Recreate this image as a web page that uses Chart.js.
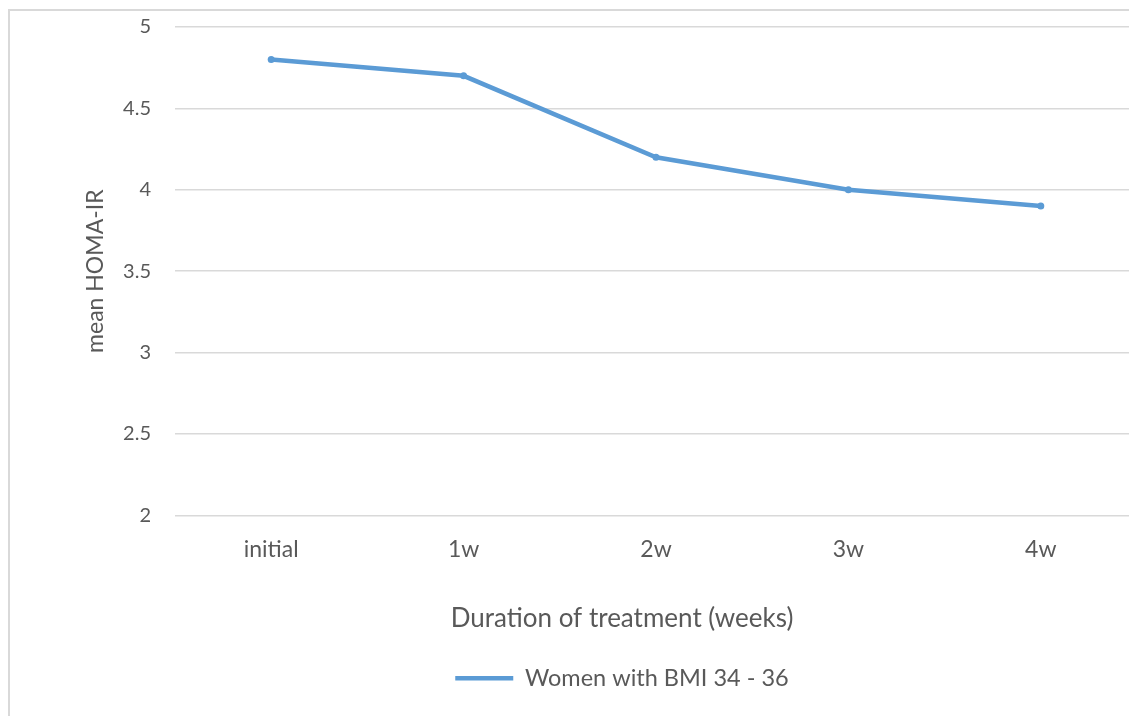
<!DOCTYPE html>
<html>
<head>
<meta charset="utf-8">
<script src="https://cdn.jsdelivr.net/npm/chart.js@4/dist/chart.umd.min.js"></script>
<style>
  html, body { margin: 0; padding: 0; background: #ffffff; overflow: hidden; width: 1129px; height: 716px; }
  #frame { position: absolute; left: 8px; top: 9px; width: 1224px; height: 720px; border: 2px solid #d9d9d9; background: #fff; }
  #chart { display: block; }
</style>
</head>
<body>
<div id="frame"><canvas id="chart" width="1224" height="705"></canvas></div>
<script>
// HOMA-IR over the course of treatment
const categories = ['initial', '1w', '2w', '3w', '4w'];
const homaIR = [4.8, 4.7, 4.2, 4.0, 3.9];
const seriesName = 'Women with BMI 34 - 36';
const yTicks = [2, 2.5, 3, 3.5, 4, 4.5, 5];

const FONT = 'Lato, "Open Sans", sans-serif';
const TEXT = '#595959';
const GRID = '#d9d9d9';
const BLUE = '#5B9BD5';
const LINE_W = 4.5;

new Chart(document.getElementById('chart'), {
  type: 'line',
  data: {
    labels: categories,
    datasets: [{
      label: seriesName,
      data: homaIR,
      borderColor: BLUE,
      backgroundColor: BLUE,
      borderWidth: LINE_W,
      pointRadius: 3.5,
      pointHoverRadius: 3.5,
      pointBackgroundColor: BLUE,
      pointBorderWidth: 0,
      tension: 0
    }]
  },
  options: {
    responsive: false,
    animation: false,
    layout: { padding: { left: 0, right: 0, top: 16, bottom: 16 } },
    scales: {
      x: {
        offset: true,
        grid: { display: false, drawTicks: false },
        border: { display: false },
        ticks: { color: TEXT, font: { family: FONT, size: 23 }, padding: 20, maxRotation: 0 },
        afterFit: (s) => { s.height = 46; s.paddingLeft = 0; s.paddingRight = 0; }
      },
      y: {
        min: 2, max: 5,
        afterBuildTicks: (s) => { s.ticks = yTicks.map(v => ({ value: v })); },
        grid: { color: GRID, lineWidth: 1.5, drawTicks: false },
        border: { display: false },
        ticks: { color: TEXT, font: { family: FONT, size: 20 }, padding: 24, callback: (v) => String(v) },
        title: {
          display: true,
          text: 'mean HOMA-IR',
          color: TEXT,
          font: { family: FONT, size: 23 },
          padding: { top: 72, bottom: 0 }
        },
        afterFit: (s) => { s.width = 165; s.paddingTop = 0; s.paddingBottom = 0; }
      },
      // empty right-hand gutter so the plot runs past the visible edge
      gutter: {
        position: 'right',
        grid: { display: false, drawTicks: false },
        border: { display: false },
        ticks: { display: false },
        afterFit: (s) => { s.width = 97; s.paddingTop = 0; s.paddingBottom = 0; }
      }
    },
    plugins: {
      tooltip: { enabled: false },
      title: {
        display: true,
        position: 'bottom',
        weight: 500,
        text: 'Duration of treatment (weeks)',
        color: TEXT,
        font: { family: FONT, size: 26, weight: 'normal' },
        padding: { top: 42, bottom: 22 }
      },
      legend: {
        position: 'bottom',
        labels: {
          color: TEXT,
          font: { family: FONT, size: 23.5 },
          usePointStyle: true,
          pointStyle: 'line',
          pointStyleWidth: 58,
          padding: 10,
          generateLabels: (chart) =>
            Chart.defaults.plugins.legend.labels.generateLabels(chart).map(item =>
              Object.assign(item, { lineWidth: LINE_W, strokeStyle: BLUE }))
        }
      }
    }
  }
});
</script>
</body>
</html>
